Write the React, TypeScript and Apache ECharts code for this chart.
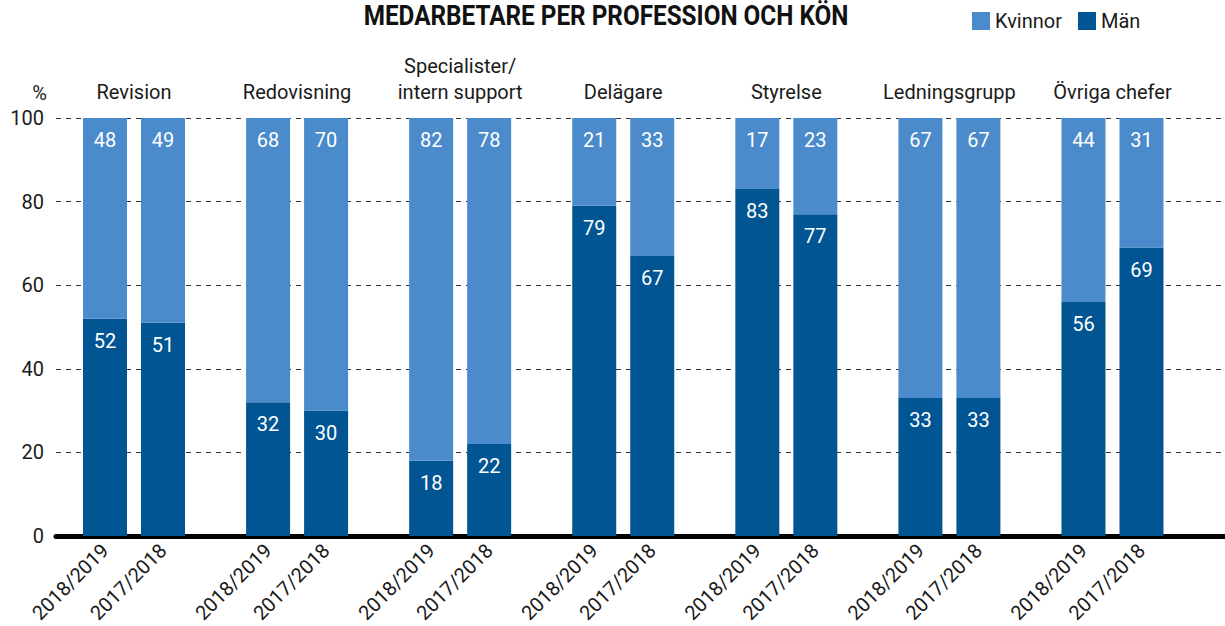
import React, { useEffect, useRef } from "react";
import * as echarts from "echarts";

const groups = [
  "Revision",
  "Redovisning",
  "Specialister/\nintern support",
  "Delägare",
  "Styrelse",
  "Ledningsgrupp",
  "Övriga chefer",
];
const years = ["2018/2019", "2017/2018"];
const manValues = [
  [52, 51],
  [32, 30],
  [18, 22],
  [79, 67],
  [83, 77],
  [33, 33],
  [56, 69],
];
const kvinnorValues = [
  [48, 49],
  [68, 70],
  [82, 78],
  [21, 33],
  [17, 23],
  [67, 67],
  [44, 31],
];
const yTicks = { min: 0, max: 100, interval: 20 };
const titleText = "MEDARBETARE PER PROFESSION OCH KÖN";

const KV = "#4b8bcb";
const MAN = "#005592";
const FONT = "Roboto, 'DejaVu Sans', sans-serif";
const TXT = "#1a1a1a";

export default function App() {
  const ref = useRef<HTMLDivElement>(null);
  useEffect(() => {
    if (!ref.current) return;
    const chart = echarts.init(ref.current, null, { renderer: "svg" });
    const top = 118;
    const bottom = 90;
    const pitch = 163.08;
    const firstLeft = 76;
    const grids: any[] = [{ left: 56, right: 0, top, bottom }];
    const xAxes: any[] = [
      {
        gridIndex: 0,
        type: "value",
        min: 0,
        max: 1,
        axisLine: { show: true, onZero: true, lineStyle: { color: "#000", width: 5 } },
        axisTick: { show: false },
        axisLabel: { show: false },
        splitLine: { show: false },
      },
    ];
    const yAxes: any[] = [
      {
        gridIndex: 0,
        type: "value",
        min: yTicks.min,
        max: yTicks.max,
        interval: yTicks.interval,
        name: "%",
        nameLocation: "end",
        nameGap: 25,
        nameTextStyle: {
          fontFamily: FONT,
          fontSize: 20,
          color: TXT,
          align: "right",
          verticalAlign: "middle",
          padding: [0, 9, 0, 0],
        },
        axisLine: { show: false },
        axisTick: { show: false },
        axisLabel: { fontFamily: FONT, fontSize: 20, color: TXT, margin: 12 },
        splitLine: { show: true, lineStyle: { color: "#333", type: [5, 5], width: 1 } },
      },
    ];
    const series: any[] = [];
    groups.forEach((g, i) => {
      const gi = i + 1;
      grids.push({ left: firstLeft + i * pitch, width: 116, top, bottom });
      xAxes.push({
        gridIndex: gi,
        type: "category",
        data: years,
        position: "bottom",
        axisLine: { show: false },
        axisTick: { show: false },
        axisLabel: { rotate: 45, fontFamily: FONT, fontSize: 20, color: TXT, margin: 11, interval: 0 },
      });
      xAxes.push({
        gridIndex: gi,
        type: "category",
        data: [g],
        position: "top",
        axisLine: { show: false },
        axisTick: { show: false },
        axisLabel: { fontFamily: FONT, fontSize: 20, color: TXT, margin: 13, lineHeight: 26, interval: 0 },
      });
      yAxes.push({ gridIndex: gi, type: "value", min: 0, max: 100, show: false });
      const common = {
        type: "bar",
        xAxisIndex: 2 * i + 1,
        yAxisIndex: gi,
        stack: "s" + i,
        barWidth: 44,
        label: {
          show: true,
          position: "insideTop",
          distance: 12,
          color: "#fff",
          fontFamily: FONT,
          fontSize: 20,
        },
      };
      series.push({ ...common, name: "Män", data: manValues[i], itemStyle: { color: MAN } });
      series.push({ ...common, name: "Kvinnor", data: kvinnorValues[i], itemStyle: { color: KV } });
    });
    chart.setOption({
      animation: false,
      graphic: [
        {
          type: "text",
          x: 606,
          y: 2,
          scaleX: 0.9,
          style: {
            text: titleText,
            fill: "#111",
            font: "bold 27px Roboto, sans-serif",
            align: "center",
            verticalAlign: "top",
          },
        },
      ],
      legend: {
        data: ["Kvinnor", "Män"],
        left: 967,
        top: 6,
        itemWidth: 18,
        itemHeight: 18,
        itemGap: 16,
        icon: "rect",
        textStyle: { fontFamily: FONT, fontSize: 20, color: TXT },
      },
      grid: grids,
      xAxis: xAxes,
      yAxis: yAxes,
      series,
    });
    return () => chart.dispose();
  }, []);
  return <div ref={ref} style={{ width: 1225, height: 626, position: "absolute", left: 0, top: 0 }} />;
}
